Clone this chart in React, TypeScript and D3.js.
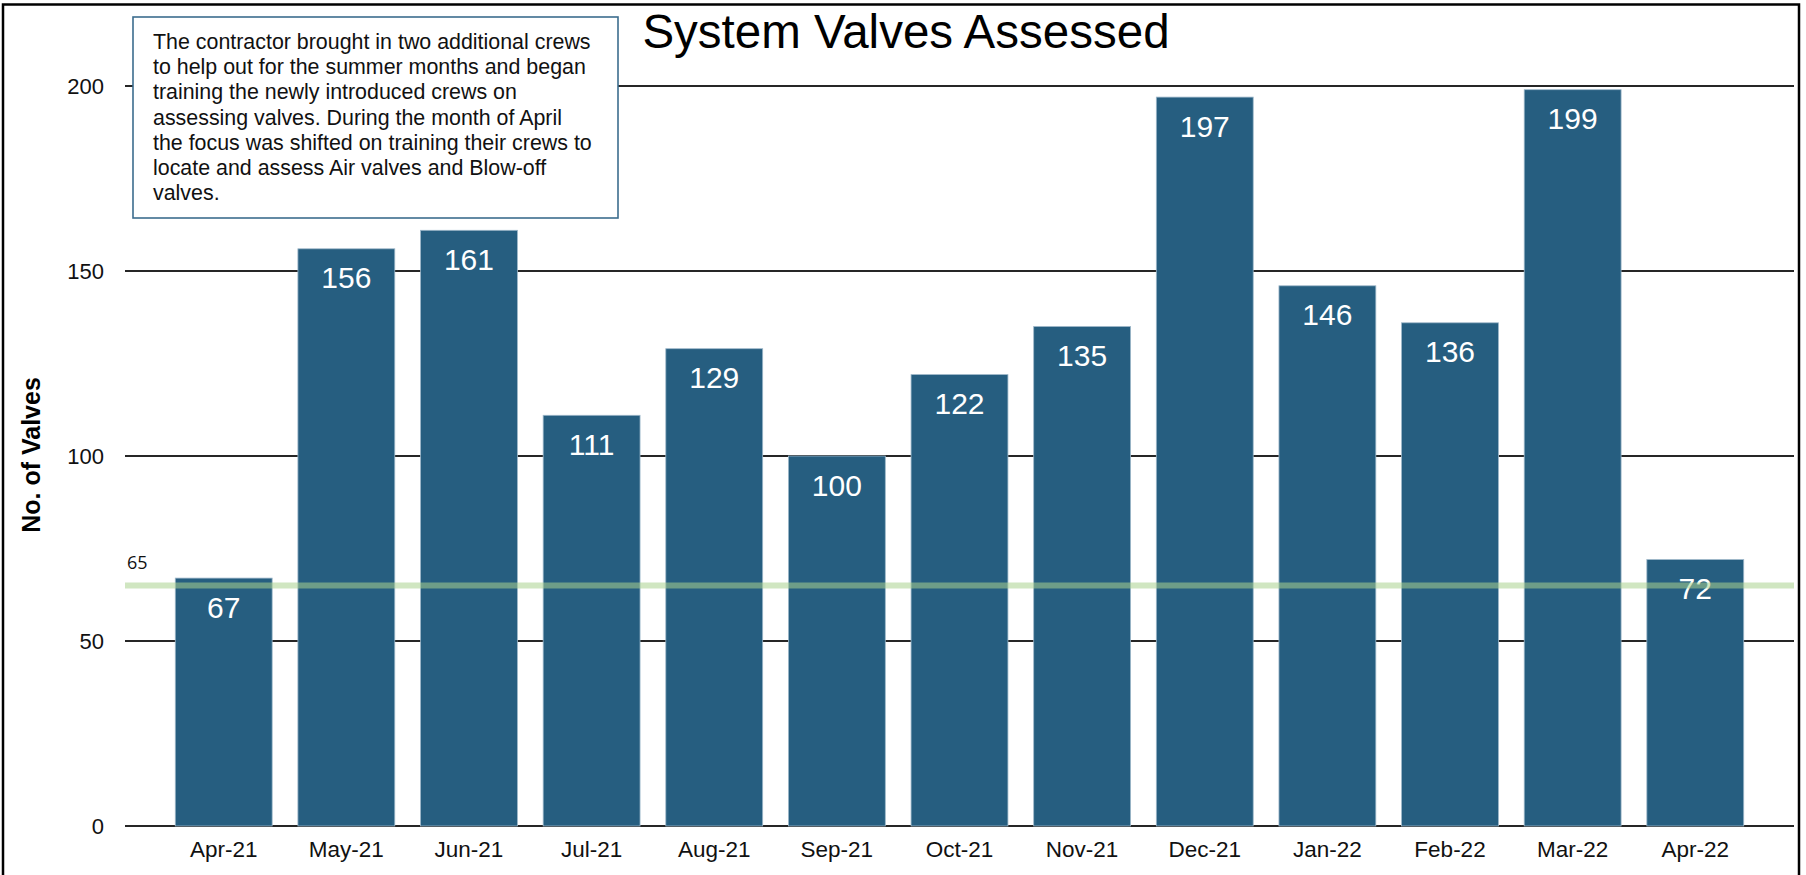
import React from "react";
import * as d3 from "d3";

const months = ["Apr-21", "May-21", "Jun-21", "Jul-21", "Aug-21", "Sep-21", "Oct-21", "Nov-21", "Dec-21", "Jan-22", "Feb-22", "Mar-22", "Apr-22"];
const valvesAssessed = [67, 156, 161, 111, 129, 100, 122, 135, 197, 146, 136, 199, 72];
const yTicks = [0, 50, 100, 150, 200];
const targetValue = 65;
const chartTitle = "System Valves Assessed";
const yAxisTitle = "No. of Valves";
const noteLines = [
  "The contractor brought in two additional crews",
  "to help out for the summer months and began",
  "training the newly introduced crews on",
  "assessing valves. During the month of April",
  "the focus was shifted on training their crews to",
  "locate and assess Air valves and Blow-off",
  "valves.",
];

const W = 1806;
const H = 875;
const FONT = "'Liberation Sans', Arial, Helvetica, sans-serif";

export default function App() {
  const x = d3
    .scaleBand<string>()
    .domain(months)
    .range([125, 1794])
    .paddingInner(0.21)
    .paddingOuter(0.41);
  const y = d3.scaleLinear().domain([0, 200]).range([826, 86]);
  const [gx0, gx1] = x.range();

  return (
    <svg
      width={W}
      height={H}
      style={{ position: "absolute", left: 0, top: 0, background: "#fff" }}
      fontFamily={FONT}
    >
      <rect x={0} y={0} width={W} height={H} fill="#fff" />
      {/* gridlines */}
      {yTicks.map((t) => (
        <line key={t} x1={gx0} x2={gx1} y1={y(t)} y2={y(t)} stroke="#262626" strokeWidth={2} />
      ))}
      {/* y tick labels */}
      {yTicks.map((t) => (
        <text key={"yl" + t} x={104} y={y(t)} dy="0.36em" textAnchor="end" fontSize={22} fill="#111">
          {t}
        </text>
      ))}
      {/* bars */}
      {valvesAssessed.map((v, i) => (
        <rect
          key={months[i]}
          x={x(months[i])!}
          y={y(v)}
          width={x.bandwidth()}
          height={y(0) - y(v)}
          fill="#265E80"
          stroke="#9db7c9"
          strokeWidth={0.8}
        />
      ))}
      {/* value labels */}
      {valvesAssessed.map((v, i) => (
        <text
          key={"vl" + i}
          x={x(months[i])! + x.bandwidth() / 2}
          y={y(v) + 39.5}
          textAnchor="middle"
          fontSize={30}
          fill="#fff"
        >
          {v}
        </text>
      ))}
      {/* x labels */}
      {months.map((m) => (
        <text key={"xl" + m} x={x(m)! + x.bandwidth() / 2} y={857} textAnchor="middle" fontSize={22.5} fill="#111">
          {m}
        </text>
      ))}
      {/* target line */}
      <line x1={gx0} x2={gx1} y1={y(targetValue)} y2={y(targetValue)} stroke="#A9D18E" strokeOpacity={0.55} strokeWidth={6} />
      <text x={127} y={569} fontSize={18} fill="#111" fontFamily="'Open Sans', 'Noto Sans', sans-serif">
        {targetValue}
      </text>
      {/* y axis title */}
      <text
        transform={`translate(39.5, 455) rotate(-90)`}
        textAnchor="middle"
        fontSize={25}
        fontWeight="bold"
        fill="#000"
      >
        {yAxisTitle}
      </text>
      {/* title */}
      <text x={906} y={48} textAnchor="middle" fontSize={47.5} fill="#000">
        {chartTitle}
      </text>
      {/* annotation box */}
      <rect x={133} y={17} width={485} height={201} fill="#fff" stroke="#3C6D8E" strokeWidth={1.6} />
      {noteLines.map((l, i) => (
        <text key={"n" + i} x={153} y={49 + i * 25.2} fontSize={21.4} fill="#111">
          {l}
        </text>
      ))}
      {/* frame */}
      <rect x={3} y={4.5} width={1796} height={885} fill="none" stroke="#000" strokeWidth={2.5} />
    </svg>
  );
}
